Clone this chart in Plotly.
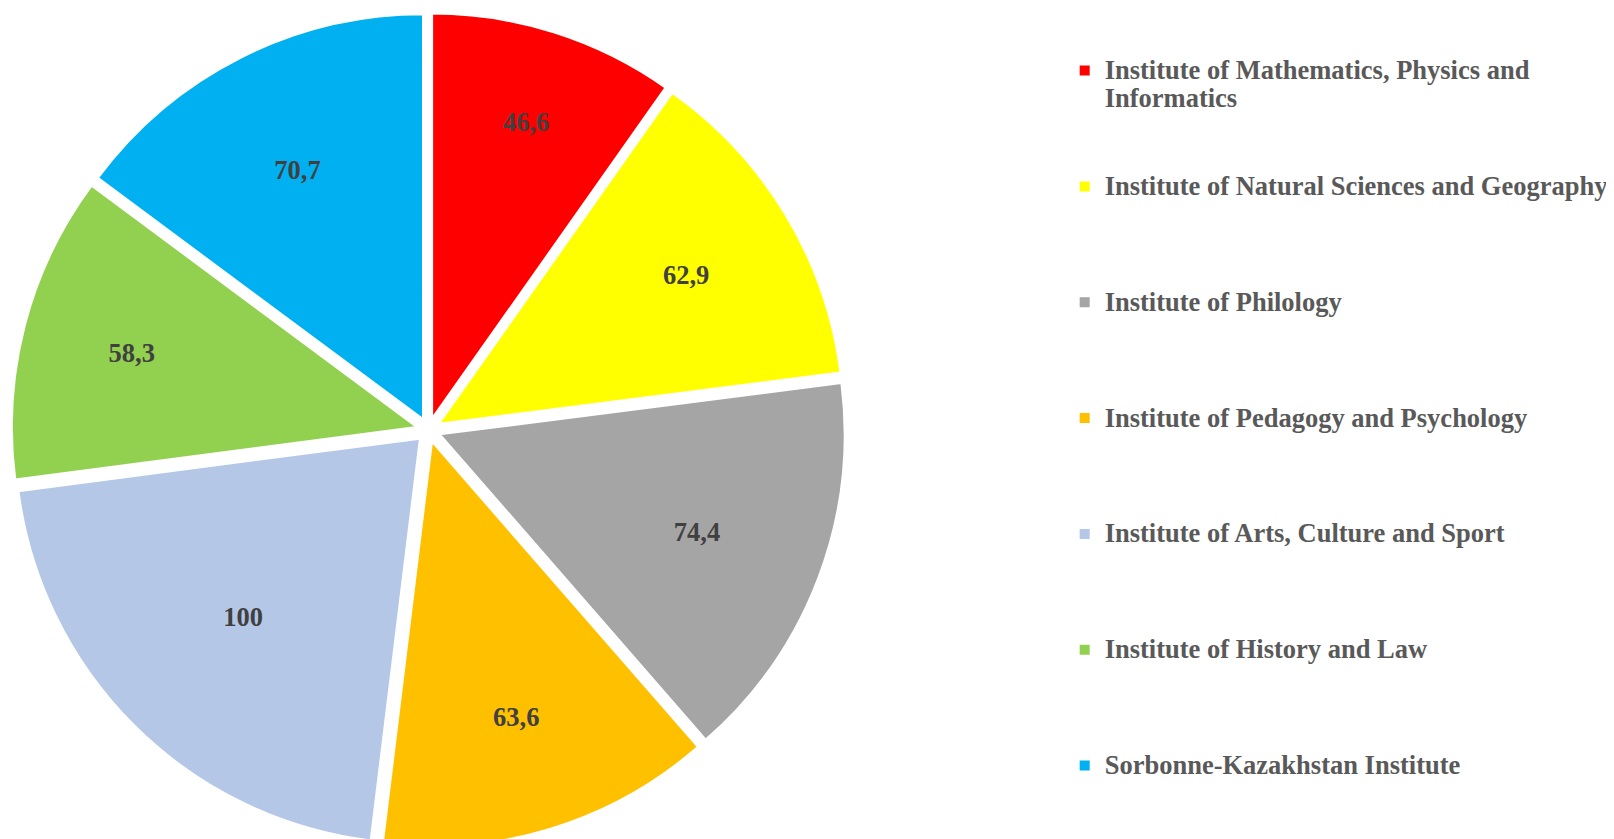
import plotly.graph_objects as go

labels = [
    "Institute of Mathematics, Physics and<br>Informatics",
    "Institute of Natural Sciences and Geography",
    "Institute of Philology",
    "Institute of Pedagogy and Psychology",
    "Institute of Arts, Culture and Sport",
    "Institute of History and Law",
    "Sorbonne-Kazakhstan Institute",
]
values = [46.6, 62.9, 74.4, 63.6, 100, 58.3, 70.7]
colors = ["#FF0000", "#FFFF00", "#A5A5A5", "#FFC000", "#B4C7E7", "#92D050", "#00B0F0"]

# pad legend labels with blank lines to reproduce the spacing between entries
legend_labels = []
for i, lab in enumerate(labels):
    lines = lab.split("<br>")
    styled = "<br>".join(f'<span style="font-size:26.5px">{ln}</span>' for ln in lines)
    pad = 0 if i == len(labels) - 1 else 4 - len(lines)
    legend_labels.append(styled + "<br> " * pad)

texts = [f"{v:g}".replace(".", ",") for v in values]

fig = go.Figure(go.Pie(
    labels=legend_labels,
    values=values,
    text=texts,
    textinfo="text",
    textposition="inside",
    insidetextorientation="horizontal",
    sort=False,
    direction="clockwise",
    rotation=0,
    pull=0.03,
    marker=dict(colors=colors, line=dict(color="white", width=2)),
    textfont=dict(family="Liberation Serif, Times New Roman, serif", size=26.5, color="#404040", weight="bold"),
    hoverinfo="skip",
    domain=dict(x=[0, 0.521], y=[0, 0.994]),
))

fig.update_layout(
    width=1614, height=839,
    margin=dict(l=0, r=0, t=0, b=0),
    paper_bgcolor="white",
    plot_bgcolor="white",
    showlegend=True,
    legend=dict(
        x=0.6547, y=0.950, xanchor="left", yanchor="top",
        valign="top",
        font=dict(family="Liberation Serif, Times New Roman, serif", size=21.7, color="#595959", weight="bold"),
        bgcolor="rgba(0,0,0,0)",
    ),
)

fig.write_html("out.html")
